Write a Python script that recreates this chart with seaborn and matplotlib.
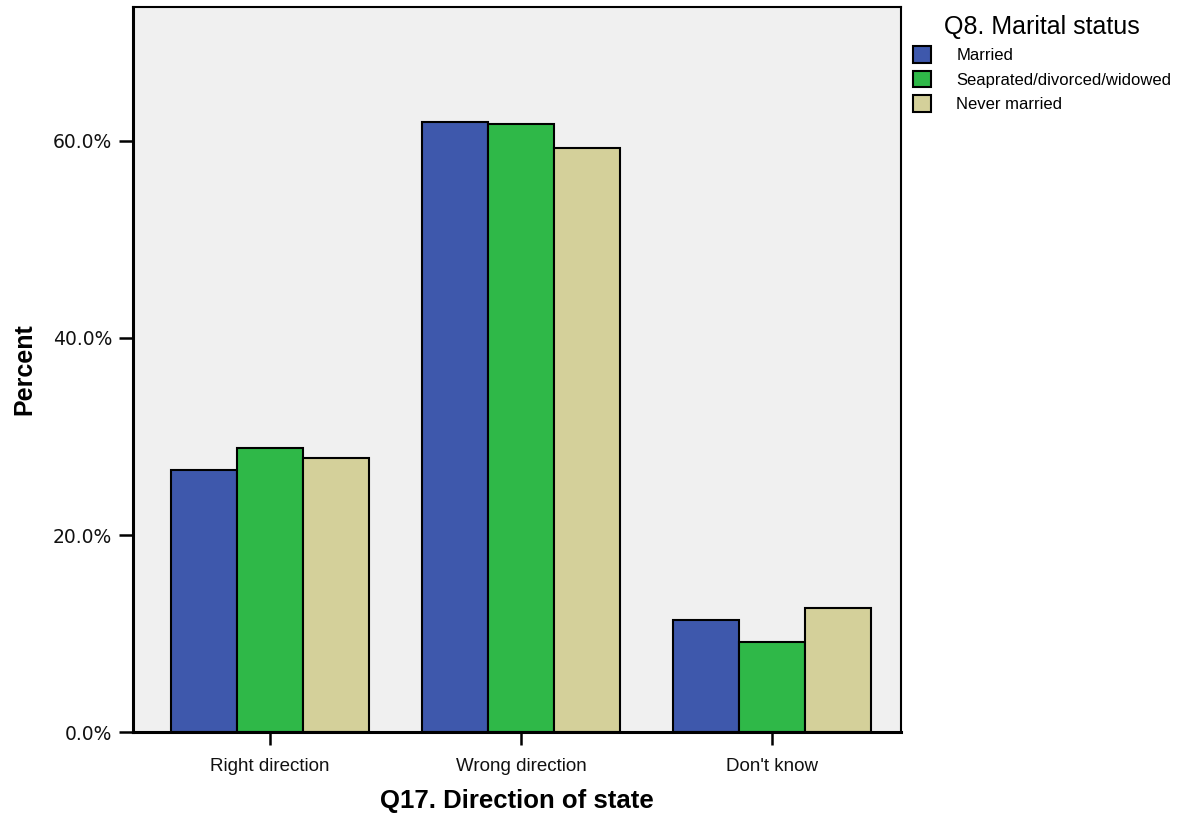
import pandas as pd
import matplotlib
matplotlib.use('Agg')
import matplotlib.pyplot as plt
import seaborn as sns
import matplotlib.ticker as mtick

# dados
categorias = ['Right direction', 'Wrong direction', "Don't know"]
grupos = ['Married', 'Seaprated/divorced/widowed', 'Never married']
married = [26.6, 61.9, 11.4]
separated = [28.8, 61.7, 9.1]
never_married = [27.8, 59.3, 12.6]

cores = ['#3E58AC', '#2FB848', '#D4D09A']
fundo = '#F0F0F0'

linhas = []
for grupo, valores in zip(grupos, [married, separated, never_married]):
    for cat, v in zip(categorias, valores):
        linhas.append({'direction': cat, 'status': grupo, 'percent': v})
df = pd.DataFrame(linhas)

sns.set_theme(style='white')
plt.rcParams['font.family'] = ['Liberation Sans', 'DejaVu Sans']

fig = plt.figure(figsize=(11.79, 8.15), dpi=100)
ax = fig.add_axes([0.1128, 0.1018, 0.6514, 0.8896])
ax.set_facecolor(fundo)

sns.barplot(data=df, x='direction', y='percent', hue='status', order=categorias,
            hue_order=grupos, palette=cores, width=0.79, edgecolor='black',
            linewidth=1.5, ax=ax, errorbar=None, saturation=1)

ax.set_ylim(0, 73.6)
ax.set_xlim(-0.546, 2.514)
ax.set_yticks([0, 20, 40, 60])
ax.yaxis.set_major_formatter(mtick.FuncFormatter(lambda v, p: f'{v:.1f}%'))

for lado in ['left', 'bottom']:
    ax.spines[lado].set_linewidth(2.2)
    ax.spines[lado].set_color('black')
for lado in ['top', 'right']:
    ax.spines[lado].set_linewidth(1.5)
    ax.spines[lado].set_color('black')

ax.tick_params(axis='both', direction='out', length=10, width=1.8, color='black',
               labelcolor='#111111', bottom=True, left=True)
ax.tick_params(axis='x', length=9, pad=10, labelsize=13.5)
ax.tick_params(axis='y', pad=5)
for t in ax.get_yticklabels():
    t.set_fontfamily('DejaVu Sans')
    t.set_fontsize(13.5)

ax.set_xlabel('Q17. Direction of state', fontsize=18.5, fontweight='bold', labelpad=10, color='black')
ax.set_ylabel('Percent', fontsize=18, fontweight='bold', labelpad=12, color='black')

handles, labels = ax.get_legend_handles_labels()
if ax.get_legend() is not None:
    ax.get_legend().remove()
leg = fig.legend(handles, labels, title='Q8. Marital status', loc='upper left',
                 bbox_to_anchor=(0.7744, 0.982), frameon=False, fontsize=12,
                 title_fontsize=18, handlelength=1.1, handleheight=1.15,
                 handletextpad=1.5, labelspacing=0.45, borderaxespad=0, borderpad=0)
leg.get_title().set_color('black')
for txt in leg.get_texts():
    txt.set_color('black')
for h in leg.legend_handles:
    h.set_edgecolor('black')
    h.set_linewidth(1.5)

fig.savefig('out.png', dpi=100)
